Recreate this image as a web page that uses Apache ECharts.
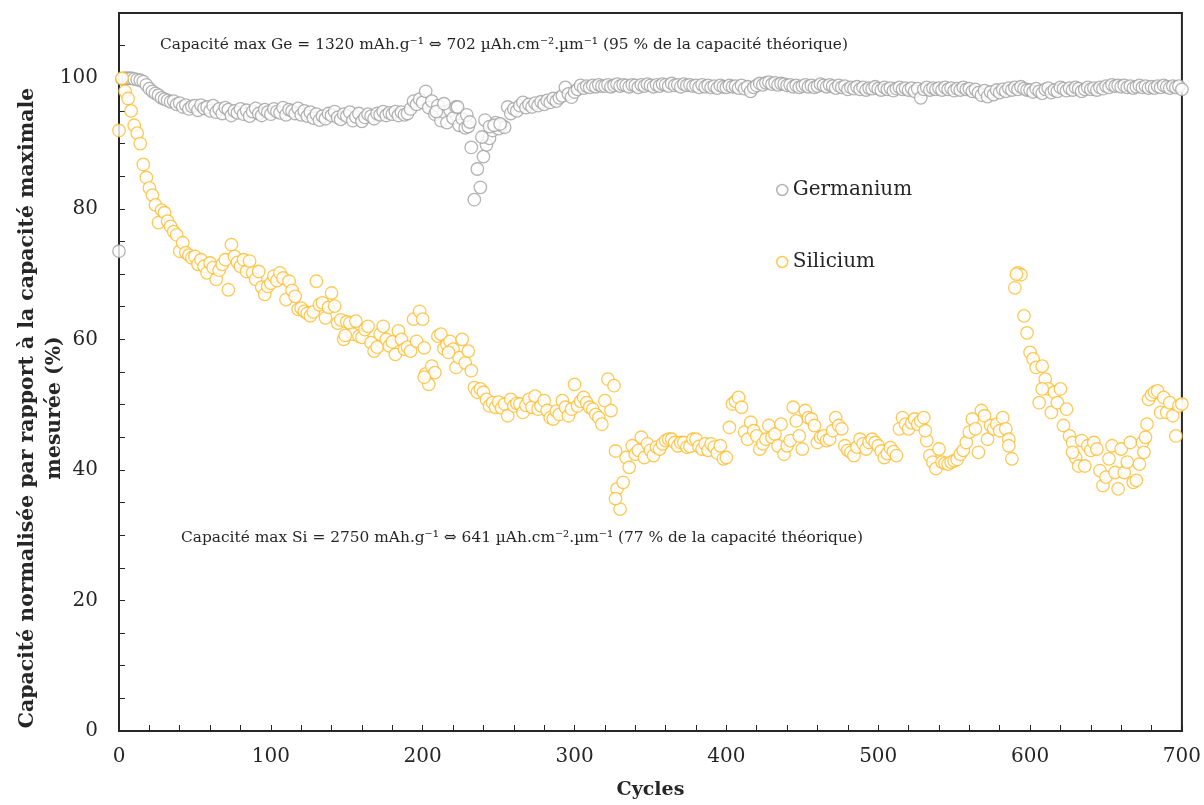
<!DOCTYPE html>
<html>
<head>
<meta charset="utf-8">
<script src="https://cdn.jsdelivr.net/npm/echarts@6/dist/echarts.min.js"></script>
<style>
  html, body { margin: 0; padding: 0; background: #fff; }
  #chart { width: 1204px; height: 805px; }
</style>
</head>
<body>
<div id="chart"></div>
<script>
// capacité normalisée (%) lue tous les 2 cycles, de 0 à 700
var geValues = [
  73.5, 99.9, 100.0, 100.0, 100.0, 99.9, 99.8, 99.7, 99.5, 99.0,
  98.4, 98.0, 97.7, 97.4, 97.0, 96.8, 96.6, 96.4, 96.5, 96.0,
  96.2, 95.6, 95.9, 95.3, 95.7, 95.8, 95.1, 95.9, 95.4, 95.6,
  95.0, 95.8, 94.8, 95.3, 94.6, 95.5, 95.2, 94.3, 95.0, 94.7,
  95.3, 94.5, 95.1, 94.2, 94.9, 95.4, 94.6, 94.3, 95.2, 94.8,
  94.5, 95.3, 94.9, 94.7, 95.5, 94.4, 95.2, 95.0, 94.6, 95.4,
  94.4, 95.0, 94.2, 94.8, 93.9, 94.5, 93.6, 94.2, 93.8, 94.6,
  94.3, 94.9, 94.0, 93.7, 94.5, 94.2, 94.8, 93.5, 94.1, 94.6,
  93.4, 94.0, 94.5, 94.2, 93.8, 94.6, 94.4, 94.9, 94.3, 94.7,
  94.5, 94.9, 94.3, 94.8, 94.4, 94.6, 95.3, 96.5, 96.0, 96.8,
  96.3, 98.0, 95.5, 96.5, 94.5, 95.8, 93.5, 94.8, 93.2, 95.1,
  93.9, 95.6, 92.8, 93.8, 92.4, 92.6, 89.4, 81.4, 86.1, 83.3,
  88.0, 89.8, 90.8, 92.0, 93.2, 92.3, 92.8, 92.5, 95.6, 94.6,
  95.3, 95.0, 95.8, 96.3, 95.5, 96.0, 95.6, 96.2, 95.8, 96.4,
  96.0, 96.6, 96.3, 96.9, 96.5, 97.0, 97.3, 98.6, 97.6, 97.1,
  97.9, 98.3, 98.9, 98.5, 98.8, 98.6, 98.9, 98.7, 99.0, 98.8,
  98.8, 99.0, 98.7, 98.9, 99.1, 98.8, 99.0, 98.9, 98.7, 99.0,
  98.9, 98.6, 99.0, 98.8, 99.1, 98.9, 98.7, 99.0, 98.8, 99.1,
  99.0, 98.8, 99.2, 98.9, 99.0, 98.7, 99.1, 98.9, 99.0, 98.8,
  98.9, 98.6, 99.0, 98.7, 98.9, 98.6, 98.8, 98.5, 98.9, 98.7,
  98.6, 98.9, 98.7, 98.8, 98.5, 98.9, 98.4, 98.7, 98.0, 98.6,
  98.9, 99.2, 99.0, 99.3, 99.4, 99.1, 99.3, 99.0, 99.2, 99.1,
  98.9, 99.0, 98.7, 98.9, 98.6, 98.8, 99.0, 98.7, 98.9, 98.6,
  98.8, 99.1, 98.9, 98.7, 99.0, 98.8, 98.5, 98.9, 98.6, 98.8,
  98.3, 98.6, 98.4, 98.7, 98.3, 98.6, 98.2, 98.5, 98.4, 98.7,
  98.4, 98.2, 98.6, 98.3, 98.5, 98.1, 98.4, 98.6, 98.3, 98.5,
  98.2, 98.5, 98.0, 98.4, 97.0, 98.3, 98.6, 98.2, 98.5, 98.3,
  98.5, 98.2, 98.6, 98.3, 98.5, 98.1, 98.4, 98.2, 98.6, 98.3,
  98.4, 98.0, 98.3, 97.8, 97.4, 98.1, 97.2, 97.9, 97.5, 98.2,
  97.8, 98.3, 98.0, 98.5, 98.2, 98.6, 98.3, 98.7, 98.4, 98.2,
  98.2, 97.9, 98.4, 98.0, 97.7, 98.3, 98.5, 97.8, 98.2, 98.0,
  98.6, 98.4, 98.1, 98.5, 98.2, 98.6, 98.4, 98.0, 98.3, 98.6,
  98.3, 98.5, 98.2, 98.6, 98.4, 98.8, 98.6, 99.0, 98.8, 98.9,
  98.7, 98.9, 98.6, 98.8, 98.5, 98.7, 98.9, 98.6, 98.8, 98.5,
  98.7, 98.5, 98.8, 98.6, 98.9, 98.7, 98.5, 98.8, 98.6, 98.8,
  98.3
];

var siValues = [
  92.0, 100.0, 98.0, 96.9, 95.0, 92.8, 91.6, 90.0, 86.8, 84.8,
  83.2, 82.1, 80.6, 77.9, 79.8, 79.4, 78.1, 77.3, 76.5, 76.0,
  73.5, 74.8, 73.3, 72.9, 72.5, 72.7, 71.5, 72.2, 71.2, 70.2,
  71.7, 71.0, 69.2, 70.6, 71.5, 72.2, 67.6, 74.5, 72.7, 71.8,
  71.2, 72.2, 70.4, 72.0, 70.2, 69.2, 70.4, 68.0, 66.9, 68.1,
  68.6, 69.7, 69.0, 70.2, 69.4, 66.1, 68.9, 67.5, 66.6, 64.6,
  64.8, 64.3, 64.0, 63.6, 64.2, 68.9, 65.3, 65.6, 63.3, 64.9,
  67.1, 65.1, 62.5, 63.0, 60.0, 62.7, 62.5, 60.8, 62.8, 60.5,
  60.3, 61.5, 62.0, 59.5, 58.2, 58.8, 60.8, 62.0, 60.0, 59.0,
  59.6, 57.7, 61.3, 60.0, 58.5, 58.8, 58.2, 63.1, 59.7, 64.3,
  63.1, 54.7, 53.1, 55.9, 54.9, 60.5, 60.8, 58.6, 59.2, 59.7,
  58.5, 55.7, 57.2, 60.0, 56.4, 58.2, 55.2, 52.6, 51.9, 52.4,
  51.9, 50.8, 49.8, 50.3, 49.6, 50.4, 49.5, 50.1, 48.3, 50.8,
  49.8, 50.2, 50.1, 48.8, 49.9, 50.8, 49.6, 51.3, 49.3, 49.8,
  50.6, 49.1, 48.0, 47.8, 49.0, 48.5, 50.6, 49.6, 48.3, 49.3,
  53.1, 49.8, 50.5, 51.1, 50.3, 49.6, 49.3, 48.5, 48.0, 47.0,
  50.6, 53.9, 49.1, 52.9, 37.1, 34.0, 38.1, 41.9, 40.4, 43.7,
  42.4, 43.0, 45.0, 41.9, 44.0, 43.0, 42.2, 43.5, 43.2, 44.0,
  44.5, 44.7, 44.7, 44.2, 43.7, 44.2, 44.2, 43.5, 43.6, 44.7,
  44.7, 43.6, 43.2, 44.0, 43.0, 44.0, 43.5, 42.6, 43.7, 41.7,
  41.9, 46.5, 50.1, 50.5, 51.1, 49.6, 45.8, 44.7, 47.3, 46.0,
  45.2, 43.2, 44.0, 44.7, 46.8, 45.0, 45.5, 43.7, 47.0, 42.4,
  43.7, 44.5, 49.6, 47.5, 45.2, 43.2, 49.1, 48.0, 47.8, 46.8,
  44.2, 45.0, 45.2, 44.5, 44.7, 46.0, 48.0, 46.8, 46.3, 43.7,
  43.0, 42.7, 42.2, 43.5, 44.7, 44.0, 43.2, 44.2, 44.7, 44.2,
  43.7, 42.9, 41.9, 42.5, 43.4, 42.8, 42.2, 46.3, 48.0, 47.0,
  46.3, 47.2, 47.8, 47.0, 47.5, 48.0, 44.5, 42.2, 41.2, 40.2,
  43.2, 41.2, 41.0, 40.9, 41.2, 41.4, 41.6, 42.4, 43.0, 44.2,
  45.8, 47.8, 46.3, 42.7, 49.1, 48.3, 44.7, 46.8, 46.3, 47.0,
  46.0, 48.0, 46.3, 44.7, 41.7, 67.9, 70.2, 69.9, 63.6, 61.0,
  58.0, 57.0, 55.7, 50.3, 55.9, 53.9, 52.4, 48.8, 51.9, 50.3,
  52.4, 46.8, 49.3, 45.2, 44.2, 41.9, 40.6, 44.5, 40.6, 43.7,
  43.0, 44.2, 43.2, 39.9, 37.6, 38.9, 41.7, 43.7, 39.6, 37.1,
  43.2, 39.6, 41.2, 44.2, 38.1, 38.4, 40.9, 44.2, 45.0, 50.8,
  51.5, 51.9, 52.1, 48.8, 51.1, 48.8, 50.3, 48.3, 45.2, 49.8,
  50.1
];

// points isolés qui se superposent à la bande principale
var geExtraCycles = [209, 214, 223, 229, 231, 239, 241, 244, 247, 251];
var geExtraValues = [94.9, 96.1, 95.6, 94.4, 93.3, 91.0, 93.6, 92.6, 92.8, 93.0];
var siExtraCycles = [149, 201, 201, 217, 327, 327, 531, 586, 591, 608, 628, 675, 677];
var siExtraValues = [60.6, 58.7, 54.2, 58.0, 42.9, 35.6, 46.0, 43.7, 70.0, 52.4, 42.7, 42.7, 47.0];

var seriesNames = ['Germanium', 'Silicium'];
var xLabels = [0, 100, 200, 300, 400, 500, 600, 700];
var yLabels = [0, 20, 40, 60, 80, 100];

var geNote = 'Capacité max Ge = 1320 mAh.g⁻¹ ⇔ 702 µAh.cm⁻².µm⁻¹ (95 % de la capacité théorique)';
var siNote = 'Capacité max Si = 2750 mAh.g⁻¹ ⇔ 641 µAh.cm⁻².µm⁻¹ (77 % de la capacité théorique)';
var yTitle = 'Capacité normalisée par rapport à la capacité maximale\nmesurée (%)';

(function() {
  var ink = '#262626';
  var geColor = '#a0a0a0';
  var siColor = '#fcbb2a';
  var font = 'DejaVu Serif';

  function toPoints(values, exCycles, exValues) {
    var pts = values.map(function(v, i) { return [i * 2, v]; });
    exCycles.forEach(function(c, i) { pts.push([c, exValues[i]]); });
    return pts;
  }

  var chart = echarts.init(document.getElementById('chart'), null, { renderer: 'canvas' });
  chart.setOption({
    animation: false,
    backgroundColor: '#fff',
    grid: { left: 119, right: 21, top: 13, bottom: 72, show: true, borderColor: ink, borderWidth: 2 },
    xAxis: {
      type: 'value', min: 0, max: 700, interval: 20,
      name: 'Cycles', nameLocation: 'middle', nameGap: 50,
      nameTextStyle: { fontFamily: font, fontWeight: 'bold', fontSize: 19, color: ink },
      axisLine: { lineStyle: { color: ink, width: 2 } },
      axisTick: { inside: true, length: 6, lineStyle: { color: ink, width: 1 } },
      axisLabel: {
        margin: 16, fontFamily: font, fontSize: 20, color: ink,
        formatter: function(v) { return xLabels.indexOf(v) >= 0 ? String(v) : ''; }
      },
      splitLine: { show: false }
    },
    yAxis: {
      type: 'value', min: 0, max: 110, interval: 5,
      axisLine: { lineStyle: { color: ink, width: 2 } },
      axisTick: { inside: true, length: 6, lineStyle: { color: ink, width: 1 } },
      axisLabel: {
        margin: 21, fontFamily: font, fontSize: 20, color: ink,
        formatter: function(v) { return yLabels.indexOf(v) >= 0 ? String(v) : ''; }
      },
      splitLine: { show: false }
    },
    legend: {
      orient: 'vertical', left: 771, top: 175,
      itemWidth: 11, itemHeight: 11, itemGap: 52, icon: 'circle',
      textStyle: { fontFamily: font, fontSize: 20, color: ink },
      data: [
        { name: seriesNames[0], itemStyle: { color: '#fff', borderColor: geColor, borderWidth: 1.5 } },
        { name: seriesNames[1], itemStyle: { color: '#fff', borderColor: siColor, borderWidth: 1.5 } }
      ]
    },
    graphic: [
      { type: 'text', x: 160, y: 45, style: { text: geNote, fontFamily: font, fontSize: 15.4, fill: ink, verticalAlign: 'middle' } },
      { type: 'text', x: 181, y: 538, style: { text: siNote, fontFamily: font, fontSize: 15.4, fill: ink, verticalAlign: 'middle' } },
      { type: 'text', x: 41, y: 408, rotation: Math.PI / 2,
        style: { text: yTitle, fontFamily: font, fontWeight: 'bold', fontSize: 20.4, lineHeight: 27,
                 fill: ink, align: 'center', verticalAlign: 'middle' } }
    ],
    series: [
      {
        name: seriesNames[0], type: 'scatter', clip: false, z: 2,
        symbol: 'circle', symbolSize: 12.5,
        itemStyle: { color: '#fff', borderColor: geColor, borderWidth: 1.3 },
        data: toPoints(geValues, geExtraCycles, geExtraValues)
      },
      {
        name: seriesNames[1], type: 'scatter', clip: false, z: 3,
        symbol: 'circle', symbolSize: 12.5,
        itemStyle: { color: '#fff', borderColor: siColor, borderWidth: 1.3 },
        data: toPoints(siValues, siExtraCycles, siExtraValues)
      }
    ]
  });
  window.addEventListener('resize', function() { chart.resize(); });
})();
</script>
</body>
</html>
